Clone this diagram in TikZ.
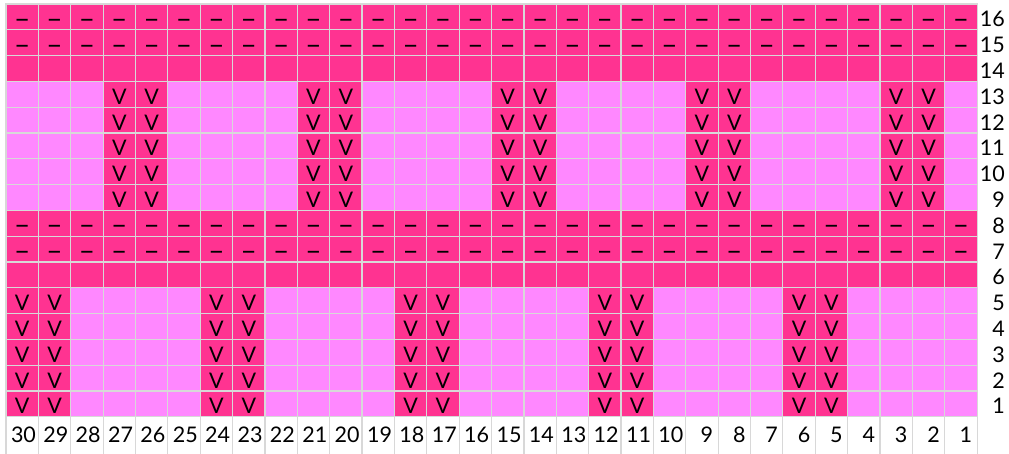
\documentclass[tikz,border=0pt]{standalone}
\usepackage{fontspec}
\setmainfont{Lato}
\usepackage{tikz}
\definecolor{knitDark}{HTML}{FF3391}
\definecolor{knitLight}{HTML}{FF88FF}
\definecolor{knitGrid}{HTML}{D8D8D8}
\newcommand{\knitPurl}{\raisebox{-1.5pt}{\scalebox{1.3}[1.3]{\textendash}}}
\newcommand{\knitSlip}{V}
\tikzset{
  %% -- chart cells --------------------------------------------------------
  %% one cell per stitch; dark = contrast colour, light = main colour
  cell/.style      = {draw=knitGrid, line width=1.2pt, minimum width=32.37pt,
                      minimum height=25.8pt, inner sep=0pt, outer sep=0pt,
                      font=\fontsize{21.5}{21.5}\selectfont,
                      text height=20pt, text depth=0pt},
  cellDark/.style  = {cell, fill=knitDark},
  cellLight/.style = {cell, fill=knitLight},
  %% -- numbering ----------------------------------------------------------
  cellNum/.style   = {cell, fill=white, minimum height=46pt,
                      text height=6pt, text width=22.37pt, align=right},
  rowNum/.style    = {anchor=east, inner sep=0pt,
                      font=\fontsize{21.5}{21.5}\selectfont,
                      text height=20pt, text depth=0pt},
}

\begin{document}
\begin{tikzpicture}[x=1pt, y=1pt]
\useasboundingbox (0,0) rectangle (1009,453);

%% row kinds: 0 plain, 1 purl, 2 slip low, 3 slip high
\foreach \r/\k in {1/2,2/2,3/2,4/2,5/2,6/0,7/1,8/1,
                   9/3,10/3,11/3,12/3,13/3,14/0,15/1,16/1}{
  \node[rowNum] (row\r) at (1005, {449-(16.5-\r)*25.8}) {\r};
  \foreach \c in {1,...,30}{
    \pgfmathtruncatemacro{\m}{mod(\c,6)}
    \pgfmathtruncatemacro{\isSlip}{(\k==2 && (\m==0 || \m==5)) || (\k==3 && (\m==2 || \m==3))}
    \coordinate (p) at ({6+(30.5-\c)*32.37}, {449-(16.5-\r)*25.8});
    \ifnum\k<2
      \node[cellDark] (c\c-\r) at (p) {\ifnum\k=1 \knitPurl\fi};
    \else\ifnum\isSlip=1
      \node[cellDark] (c\c-\r) at (p) {\knitSlip};
    \else
      \node[cellLight] (c\c-\r) at (p) {};
    \fi\fi
  }
}

\foreach \c in {1,...,30}
  \node[cellNum] (col\c) at ({6+(30.5-\c)*32.37}, 13.2) {\c};

\end{tikzpicture}
\end{document}
